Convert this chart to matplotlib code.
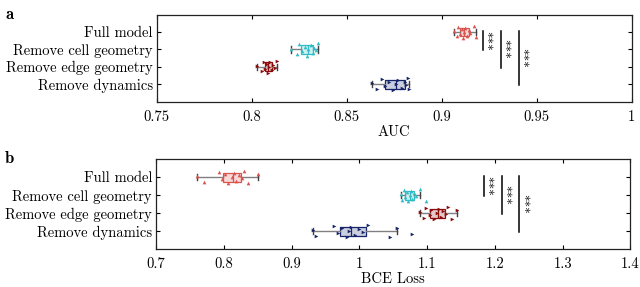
import matplotlib
matplotlib.use("Agg")
import matplotlib.pyplot as plt
import numpy as np

plt.rcParams['font.family'] = ['cmr10', 'DejaVu Serif']
plt.rcParams['mathtext.fontset'] = 'cm'
plt.rcParams['axes.formatter.use_mathtext'] = True

categories = ["Full model", "Remove cell geometry", "Remove edge geometry", "Remove dynamics"]
colors = ["#d9534f", "#2fbcc4", "#8b0a0a", "#15246a"]
markers = ["^", "^", ">", ">"]

# AUC values (panel a)
auc_full = [0.9063, 0.9080, 0.9088, 0.9095, 0.9105, 0.9112, 0.9118, 0.9123, 0.9133, 0.9144, 0.9150, 0.9168, 0.9183]
auc_cell = [0.8205, 0.8240, 0.8250, 0.8262, 0.8278, 0.8290, 0.8298, 0.8310, 0.8322, 0.8330, 0.8338, 0.8347]
auc_edge = [0.8026, 0.8055, 0.8062, 0.8070, 0.8078, 0.8084, 0.8090, 0.8098, 0.8105, 0.8112, 0.8120, 0.8132]
auc_dyn = [0.8635, 0.8660, 0.8688, 0.8700, 0.8720, 0.8745, 0.8760, 0.8772, 0.8790, 0.8805, 0.8812, 0.8820, 0.8830]

# BCE loss values (panel b)
bce_full = [0.761, 0.770, 0.793, 0.797, 0.802, 0.806, 0.812, 0.815, 0.818, 0.822, 0.826, 0.830, 0.836, 0.8496]
bce_cell = [1.061, 1.063, 1.066, 1.068, 1.070, 1.072, 1.074, 1.076, 1.078, 1.080, 1.083, 1.090, 1.0983]
bce_edge = [1.0889, 1.095, 1.098, 1.104, 1.106, 1.110, 1.114, 1.117, 1.120, 1.124, 1.128, 1.131, 1.137, 1.1445]
bce_dyn = [0.9319, 0.936, 0.962, 0.968, 0.975, 0.981, 0.985, 0.988, 0.993, 1.000, 1.006, 1.012, 1.045, 1.0555, 1.078]

# vertical jitter offsets of the scattered points
jitter = [0.05, -0.25, 0.3, -0.1, 0.15, -0.35, 0.0, 0.25, -0.2, 0.1, -0.05, 0.35, -0.3, 0.2, -0.15]

auc_ticks = [0.75, 0.8, 0.85, 0.9, 0.95, 1.0]
auc_ticklabels = ["0.75", "0.8", "0.85", "0.9", "0.95", "1"]
bce_ticks = [0.7, 0.8, 0.9, 1.0, 1.1, 1.2, 1.3, 1.4]
bce_ticklabels = ["0.7", "0.8", "0.9", "1", "1.1", "1.2", "1.3", "1.4"]

# significance bars: (x position, y from, y to)
auc_sig = [(0.9216, 4, 3), (0.931, 4, 2), (0.9405, 4, 1)]
bce_sig = [(1.1834, 4, 3), (1.210, 4, 2), (1.236, 4, 1)]

fig = plt.figure(figsize=(6.4, 2.87), dpi=100)
axa = fig.add_axes([0.245, 0.646, 0.742, 0.303])
axb = fig.add_axes([0.244, 0.132, 0.741, 0.3136])

ypos = [4, 3, 2, 1]


def draw(ax, groups, ticks, ticklabels, xlim, xlabel, sig, star_dx):
    for data, y, c, m in zip(groups, ypos, colors, markers):
        bp = ax.boxplot([data], positions=[y], vert=False, widths=0.5,
                        whis=1.5, showfliers=False, patch_artist=True,
                        manage_ticks=False)
        for b in bp['boxes']:
            b.set_facecolor(matplotlib.colors.to_rgba(c, 0.22))
            b.set_edgecolor(c)
            b.set_linewidth(0.9)
        for w in bp['whiskers']:
            w.set_color('#808080')
            w.set_linewidth(1.0)
        for cap in bp['caps']:
            cap.set_color('#404040')
            cap.set_linewidth(1.0)
            cap.set_ydata([y - 0.18, y + 0.18])
        for med in bp['medians']:
            med.set_color(c)
            med.set_linewidth(0.9)
        yy = [y + jitter[i % len(jitter)] for i in range(len(data))]
        ax.scatter(data, yy, marker=m, s=7, color=c, zorder=3, linewidths=0)
    for x, y0, y1 in sig:
        ax.plot([x, x], [y0 + 0.05, y1 - 0.05], color='black', lw=1.1)
        ax.text(x + star_dx, (y0 + y1) / 2, "***", rotation=270, ha='center',
                va='center', fontsize=9.5)
    ax.set_xlim(*xlim)
    ax.set_ylim(0, 5)
    ax.set_xticks(ticks)
    ax.set_xticklabels(ticklabels)
    ax.set_yticks(ypos)
    ax.set_yticklabels(categories)
    ax.tick_params(direction='in', top=True, right=True, length=3, width=0.8,
                   labelsize=10.5)
    ax.tick_params(axis='y', pad=3)
    ax.tick_params(axis='x', pad=6)
    ax.set_xlabel(xlabel, fontsize=10.5, labelpad=1)
    for s in ax.spines.values():
        s.set_linewidth(0.9)
        s.set_color('#222222')


draw(axa, [auc_full, auc_cell, auc_edge, auc_dyn], auc_ticks, auc_ticklabels,
     (0.75, 1.0), "AUC", auc_sig, 0.0008)
draw(axb, [bce_full, bce_cell, bce_edge, bce_dyn], bce_ticks, bce_ticklabels,
     (0.7, 1.4), "BCE Loss", bce_sig, 0.0022)

fig.text(0.008, 0.975, "a", family='cmb10', fontsize=12, va='top', ha='left')
fig.text(0.008, 0.475, "b", family='cmb10', fontsize=12, va='top', ha='left')

fig.savefig("out.png", dpi=100)
